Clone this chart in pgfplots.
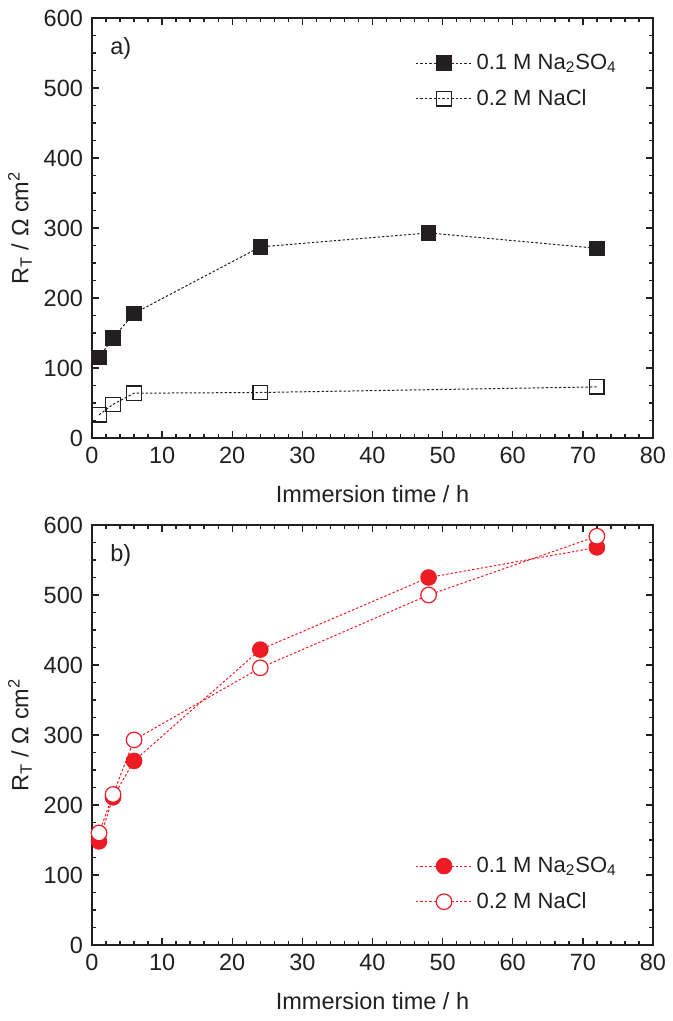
\documentclass[border=0pt]{standalone}
\usepackage{pgfplots}
\pgfplotsset{compat=1.18}
\usepackage{fontspec}
\setmainfont{Liberation Sans}
\definecolor{myred}{RGB}{237,28,36}
\definecolor{axgray}{RGB}{35,31,32}
\pgfplotsset{
  common/.style={
    scale only axis, width=280.5pt, height=210pt,
    xmin=0, xmax=80, ymin=0, ymax=600,
    xtick={0,10,...,80}, ytick={0,100,...,600},
    minor x tick num=4, minor y tick num=3,
    tick align=inside,
    major tick length=3.5pt, minor tick length=1.8pt,
    axis line style={line width=0.9pt, axgray},
    every tick/.style={line width=0.7pt, axgray},
    /pgf/number format/assume math mode=true,
    tick label style={font=\fontsize{11.75}{14}\selectfont, text=axgray},
    label style={font=\fontsize{11.75}{14}\selectfont, text=axgray},
    xticklabel style={yshift=-1pt},
    yticklabel style={xshift=-1pt},
    xlabel={Immersion time / h},
    ylabel={R\textsubscript{T} / Ω cm\textsuperscript{2}},
    xlabel style={yshift=-4pt},
    ylabel style={yshift=-1pt},
    legend cell align=left,
    legend style={draw=none, fill=none, font=\fontsize{11}{13}\selectfont, row sep=4.5pt, inner sep=0pt, text=axgray},
    legend image code/.code={
      \draw[mark repeat=2,mark phase=2,#1] plot coordinates {(0pt,0pt) (14pt,0pt) (28pt,0pt)};
    },
  },
  dl/.style={line width=0.5pt, dash pattern=on 1.2pt off 1pt},
}
\begin{document}
\begin{tikzpicture}
\path (-46pt,-291.5pt) rectangle (287pt,219pt);
\begin{axis}[common, at={(0,0)}, anchor=south west,
  legend style={at={(0.576,0.925)}, anchor=north west}]
\addplot[dl, axgray, mark=square*, mark size=3.6pt, mark options={solid, fill=axgray, draw=axgray}]
  coordinates {(1,115) (3,143) (6,178) (24,273) (48,293) (72,271)};
\addlegendentry{0.1 M Na\textsubscript{2}SO\textsubscript{4}}
\addplot[dl, axgray, mark=square, mark size=3.6pt, mark options={solid, fill=white, draw=axgray, line width=0.6pt}]
  coordinates {(1,33) (3,48) (6,64) (24,65) (72,73)};
\addlegendentry{0.2 M NaCl}
\node[font=\fontsize{11.75}{14}\selectfont, text=axgray, anchor=west] at (axis cs:1.6,557) {a)};
\end{axis}
\begin{axis}[common, at={(0,-253.5pt)}, anchor=south west,
  legend style={at={(0.576,0.07)}, anchor=south west}]
\addplot[dl, myred, mark=*, mark size=3.9pt, mark options={solid, fill=myred, draw=myred}]
  coordinates {(1,148) (3,211) (6,263) (24,422) (48,525) (72,568)};
\addlegendentry{0.1 M Na\textsubscript{2}SO\textsubscript{4}}
\addplot[dl, myred, mark=*, mark size=3.9pt, mark options={solid, fill=white, draw=myred, line width=0.6pt}]
  coordinates {(1,160) (3,215) (6,293) (24,396) (48,500) (72,584)};
\addlegendentry{0.2 M NaCl}
\node[font=\fontsize{11.75}{14}\selectfont, text=axgray, anchor=west] at (axis cs:1.6,557) {b)};
\end{axis}
\end{tikzpicture}
\end{document}
